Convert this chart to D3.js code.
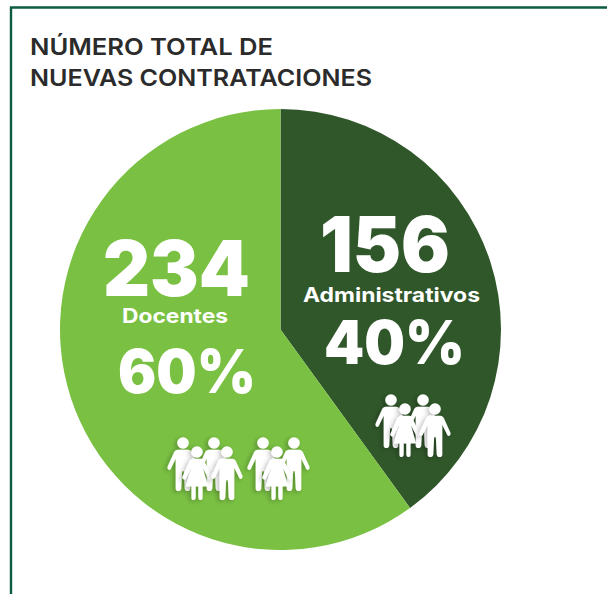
<!DOCTYPE html>
<html><head><meta charset="utf-8">
<script src="https://cdn.jsdelivr.net/npm/d3@7"></script>
<style>html,body{margin:0;padding:0;background:#fff}svg{display:block}text{font-family:Inter,"Open Sans",sans-serif}</style>
</head><body><svg id="c" width="607" height="594"></svg>
<script>
const titleLines = ["NÚMERO TOTAL DE", "NUEVAS CONTRATACIONES"];
const categories = ["Administrativos", "Docentes"];
const counts = [156, 234];
const percents = ["40%", "60%"];
const colors = ["#30572a", "#7ac143"];
const peopleAdmin = ["m", "m", "f", "m"];
const peopleDocentes = ["m", "m", "f", "m", "m", "m", "f"];

const svg = d3.select("#c");
const defs = svg.append("defs");
const flt = defs.append("filter").attr("id","sh").attr("x","-60%").attr("y","-30%").attr("width","220%").attr("height","170%");
flt.append("feDropShadow").attr("dx",-2).attr("dy",1.5).attr("stdDeviation",2.5).attr("flood-color","#000").attr("flood-opacity",0.28);

svg.append("path").attr("d","M607 7.5H11V594").attr("fill","none").attr("stroke","#0b5c3e").attr("stroke-width",2.4);

svg.selectAll("text.t").data(titleLines).join("text").attr("class","t")
  .attr("x",30).attr("y",(d,i)=>[54.5,86][i]).attr("font-size",23.5).attr("font-weight",600).attr("fill","#2b2b2b")
  .attr("textLength",(d,i)=>[243,342][i]).attr("lengthAdjust","spacingAndGlyphs").text(d=>d);

const cx=280.5, cy=329.5, R=220.5;
const pie = d3.pie().sort(null)(counts);
const arc = d3.arc().innerRadius(0).outerRadius(R);
const g = svg.append("g").attr("transform",`translate(${cx},${cy})`);
g.selectAll("path").data(pie).join("path").attr("d",arc).attr("fill",(d,i)=>colors[i]);

const manD = "M-6 -7 C-8 -7 -9.5 -6 -10.5 -4 L-18 12 C-19 15 -15 17 -14 14 L-8.5 3 L-8.5 36 C-8.5 40 -2.5 40 -2 36 L-1 17 L1 17 L2 36 C2.5 40 8.5 40 8.5 36 L8.5 3 L14 14 C15 17 19 15 18 12 L10.5 -4 C9.5 -6 8 -7 6 -7 Z";
const womanD = "M-5 -7 C-7 -7 -8 -6 -9 -4 L-17 13 C-18 16 -14 17 -13 15 L-7 4 L-13 24 L-6.5 24 L-6.5 36 C-6.5 40 -2 40 -1.5 36 L-1.5 24 L1.5 24 L1.5 36 C2 40 6.5 40 6.5 36 L6.5 24 L13 24 L7 4 L13 15 C14 17 18 16 17 13 L9 -4 C8 -6 7 -7 5 -7 Z";
function person(sel, kind, x, y){
  const p = sel.append("g").attr("transform",`translate(${x},${y})`).attr("filter","url(#sh)");
  p.append("circle").attr("r",5.8).attr("fill","#fff");
  p.append("path").attr("d",kind==="m"?manD:womanD).attr("transform","translate(0,13) scale(0.86,0.9)").attr("fill","#fff");
}
const people = svg.append("g");
const adminAt = [[391,400],[423,400],[405,409],[435,409]];
const docAt = [[183,443],[214,443],[197,452],[227,452],[263,443],[294,443],[277,452]];
peopleAdmin.forEach((k,i)=>person(people,k,...adminAt[i]));
peopleDocentes.forEach((k,i)=>person(people,k,...docAt[i]));

function label(txt,x,y,fs,w,len){
  svg.append("text").attr("x",x).attr("y",y).attr("font-size",fs).attr("font-weight",w).attr("fill","#fff")
    .attr("textLength",len).attr("lengthAdjust","spacingAndGlyphs").text(txt);
}
label(counts[1],103,296,77,900,147);
label(categories[1],122,323,20,700,106);
label(percents[1],118,393,60,900,138);
label(counts[0],320,272,77,900,130);
label(categories[0],303,302,20,700,177);
label(percents[0],324,364,60,900,141);
</script></body></html>
